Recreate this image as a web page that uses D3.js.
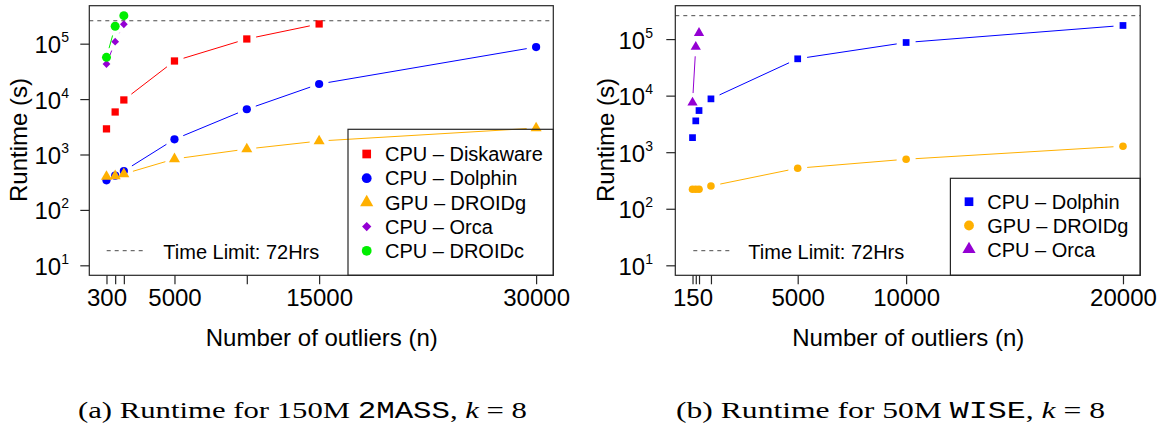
<!DOCTYPE html>
<html><head><meta charset="utf-8">
<script src="https://cdn.jsdelivr.net/npm/d3@7"></script>
<style>body{margin:0;background:#fff} svg{display:block}</style>
</head><body><svg id="c" width="1162" height="425"></svg>
<script>
// ---------- data ----------
const TIME_LIMIT = 259200; // 72 hours in seconds
// Panel (a): 150M 2MASS
const nA = [300, 900, 1500, 5000, 10000, 15000, 30000];
const diskawareA = [2900, 5850, 9650, 48700, 121600, 227000];
const dolphinA = [342, 414, 504, 1880, 6550, 18700, 87000];
const droidgA = [400, 410, 445, 830, 1255, 1750, 3000];
const orcaA = [43000, 108700, 224000];
const droidcA = [56700, 206000, 320000];
const xTicksA = [300, 900, 1500, 5000, 10000, 15000, 30000];
const xTickLabelsA = ["300", "", "", "5000", "", "15000", "30000"];
const xLimA = [300, 30000];
const yLimA = [10, 320000];
// Panel (b): 50M WISE
const nB = [150, 300, 450, 1000, 5000, 10000, 20000];
const dolphinB = [1810, 3580, 5450, 8770, 44800, 87000, 174000];
const droidgB = [221, 221, 221, 253, 521, 751, 1277];
const orcaB = [7550, 73000, 128000];
const xTicksB = [150, 300, 450, 1000, 5000, 10000, 20000];
const xTickLabelsB = ["150", "", "", "", "5000", "10000", "20000"];
const xLimB = [150, 20000];
const yLimB = [10, 259200];
const yTicks = [10, 100, 1000, 10000, 100000];
const yTickExp = ["1", "2", "3", "4", "5"];
const xTitle = "Number of outliers (n)";
const yTitle = "Runtime (s)";
const limitLabel = "Time Limit: 72Hrs";

const RED = "#ff0000", BLUE = "#0000ff", ORANGE = "#ffb000", PURPLE = "#9400d3", GREEN = "#00ee00";

const panels = [
  {
    x0: 89.3, x1: 553.3, y0: 5.7, y1: 275.3, xlim: xLimA, ylim: yLimA,
    xTicks: xTicksA, xLabels: xTickLabelsA, r: 4.1,
    series: [
      {name: "CPU \u2013 Diskaware", n: nA, v: diskawareA, shape: "square", color: RED},
      {name: "CPU \u2013 Dolphin", n: nA, v: dolphinA, shape: "circle", color: BLUE},
      {name: "GPU \u2013 DROIDg", n: nA, v: droidgA, shape: "triangle", color: ORANGE},
      {name: "CPU \u2013 Orca", n: nA, v: orcaA, shape: "diamond", color: PURPLE},
      {name: "CPU \u2013 DROIDc", n: nA, v: droidcA, shape: "circle", color: GREEN, rs: 1.1}
    ],
    legend: {x: 348, y: 129.3, symX: 366.7, textX: 385, row0: 154, step: 24.2},
    limLeg: {lx0: 106.7, lx1: 143.3, ly: 250.7, tx: 163.3, ty: 259},
    yTitleX: 27, tickLabelEnd: 69,
    caption: {x: 78, w: 449, parts: ["(a) Runtime for 150M ", "2MASS", ", ", "k", " = 8"]}
  },
  {
    x0: 675.3, x1: 1140.2, y0: 5.7, y1: 275.3, xlim: xLimB, ylim: yLimB,
    xTicks: xTicksB, xLabels: xTickLabelsB, r: 3.8,
    series: [
      {name: "CPU \u2013 Dolphin", n: nB, v: dolphinB, shape: "square", color: BLUE},
      {name: "GPU \u2013 DROIDg", n: nB, v: droidgB, shape: "circle", color: ORANGE},
      {name: "CPU \u2013 Orca", n: nB, v: orcaB, shape: "triangle", color: PURPLE}
    ],
    legend: {x: 950.4, y: 178.3, symX: 969, textX: 987.3, row0: 201.7, step: 23.8},
    limLeg: {lx0: 693.3, lx1: 730, ly: 250.7, tx: 748.3, ty: 259},
    yTitleX: 614, tickLabelEnd: 653,
    caption: {x: 676, w: 429, parts: ["(b) Runtime for 50M ", "WISE", ", ", "k", " = 8"]}
  }
];

// ---------- helpers ----------
function extLin([a, b]) { const d = (b - a) * 0.04; return [a - d, b + d]; }
function extLog([a, b]) { const la = Math.log10(a), lb = Math.log10(b), d = (lb - la) * 0.04; return [Math.pow(10, la - d), Math.pow(10, lb + d)]; }
function markerPath(shape, r) {
  if (shape === "circle") {
    const p = d3.path(); p.arc(0, 0, r, 0, 2 * Math.PI); p.closePath(); return p.toString();
  }
  if (shape === "square") {
    const s = r * 0.886;
    return `M${-s},${-s}L${s},${-s}L${s},${s}L${-s},${s}Z`;
  }
  if (shape === "triangle") {
    const t = 1.555 * r, w = 1.347 * r, b = 0.777 * r;
    return `M0,${-t}L${w},${b}L${-w},${b}Z`;
  }
  if (shape === "diamond") {
    const d = r * 0.95;
    return `M0,${-d}L${d},0L0,${d}L${-d},0Z`;
  }
}
const FONT = "'Liberation Sans', Arial, Helvetica, sans-serif";
const FRAME = "#262626";
const svg = d3.select("#c");

panels.forEach(P => {
  const x = d3.scaleLinear().domain(extLin(P.xlim)).range([P.x0, P.x1]);
  const y = d3.scaleLog().domain(extLog(P.ylim)).range([P.y1, P.y0]);
  const g = svg.append("g");

  // time limit line
  g.append("line")
    .attr("x1", P.x0).attr("x2", P.x1)
    .attr("y1", y(TIME_LIMIT)).attr("y2", y(TIME_LIMIT))
    .attr("stroke", "#4a4a4a").attr("stroke-width", 1).attr("stroke-dasharray", "4,4");

  // series
  const gap = 9.5;
  P.series.forEach(s => {
    const pts = s.v.map((v, i) => [x(s.n[i]), y(v)]);
    const sg = g.append("g");
    for (let i = 0; i < pts.length - 1; i++) {
      const [ax, ay] = pts[i], [bx, by] = pts[i + 1];
      const dx = bx - ax, dy = by - ay, d = Math.hypot(dx, dy);
      if (d <= 2 * gap) continue;
      const ux = dx / d, uy = dy / d;
      sg.append("line")
        .attr("x1", ax + ux * gap).attr("y1", ay + uy * gap)
        .attr("x2", bx - ux * gap).attr("y2", by - uy * gap)
        .attr("stroke", s.color).attr("stroke-width", 1);
    }
    sg.selectAll("path.pt").data(pts).join("path")
      .attr("class", "pt")
      .attr("transform", p => `translate(${p[0]},${p[1]})`)
      .attr("d", markerPath(s.shape, P.r * (s.rs || 1)))
      .attr("fill", s.color);
  });

  // frame
  g.append("rect")
    .attr("x", P.x0).attr("y", P.y0)
    .attr("width", P.x1 - P.x0).attr("height", P.y1 - P.y0)
    .attr("fill", "none").attr("stroke", FRAME).attr("stroke-width", 1.2);

  // x axis
  const xa = g.append("g").attr("transform", `translate(0,${P.y1})`)
    .call(d3.axisBottom(x).tickValues(P.xTicks).tickSize(9).tickFormat((d, i) => P.xLabels[i]));
  xa.select(".domain").remove();
  xa.selectAll(".tick line").attr("stroke", FRAME).attr("stroke-width", 1.2);
  xa.selectAll(".tick text").attr("y", 30.7).attr("dy", null)
    .attr("font-family", FONT).attr("font-size", 24).attr("fill", "#000");

  // y axis
  const ya = g.append("g").attr("transform", `translate(${P.x0},0)`)
    .call(d3.axisLeft(y).tickValues(yTicks).tickSize(9).tickFormat(() => ""));
  ya.select(".domain").remove();
  ya.selectAll(".tick line").attr("stroke", FRAME).attr("stroke-width", 1.2);
  ya.selectAll(".tick text").each(function(d, i) {
    const t = d3.select(this)
      .attr("x", P.tickLabelEnd - P.x0).attr("dy", null).attr("y", 9)
      .attr("text-anchor", "end").attr("font-family", FONT).attr("fill", "#000");
    t.append("tspan").attr("font-size", 24).text("10");
    t.append("tspan").attr("font-size", 14).attr("dy", -11).text(yTickExp[i]);
  });

  // axis titles
  g.append("text")
    .attr("x", (P.x0 + P.x1) / 2 + 0.5).attr("y", 346)
    .attr("text-anchor", "middle").attr("font-family", FONT).attr("font-size", 24)
    .text(xTitle);
  g.append("text")
    .attr("transform", `translate(${P.yTitleX},${(P.y0 + P.y1) / 2 - 0.5}) rotate(-90)`)
    .attr("text-anchor", "middle").attr("font-family", FONT).attr("font-size", 24)
    .text(yTitle);

  // legend box
  const L = P.legend;
  g.append("rect")
    .attr("x", L.x).attr("y", L.y)
    .attr("width", P.x1 - L.x).attr("height", P.y1 - L.y)
    .attr("fill", "none").attr("stroke", FRAME).attr("stroke-width", 1.2);
  P.series.forEach((s, i) => {
    const yy = L.row0 + i * L.step;
    g.append("path")
      .attr("transform", `translate(${L.symX},${yy})`)
      .attr("d", markerPath(s.shape, 4.9))
      .attr("fill", s.color);
    g.append("text")
      .attr("x", L.textX).attr("y", yy + 7.2)
      .attr("font-family", FONT).attr("font-size", 20)
      .text(s.name);
  });

  // time limit legend
  const T = P.limLeg;
  g.append("line")
    .attr("x1", T.lx0).attr("x2", T.lx1).attr("y1", T.ly).attr("y2", T.ly)
    .attr("stroke", "#4a4a4a").attr("stroke-width", 1).attr("stroke-dasharray", "4,4");
  g.append("text")
    .attr("x", T.tx).attr("y", T.ty)
    .attr("font-family", FONT).attr("font-size", 20)
    .text(limitLabel);

  // caption
  const C = P.caption;
  const ct = g.append("text")
    .attr("x", C.x).attr("y", 417.5)
    .attr("font-family", "'Liberation Serif', 'Times New Roman', serif").attr("font-size", 23.5)
    .attr("textLength", C.w).attr("lengthAdjust", "spacingAndGlyphs");
  ct.append("tspan").text(C.parts[0]);
  ct.append("tspan").attr("font-family", "'Liberation Mono', 'DejaVu Sans Mono', monospace").text(C.parts[1]);
  ct.append("tspan").text(C.parts[2]);
  ct.append("tspan").attr("font-style", "italic").text(C.parts[3]);
  ct.append("tspan").text(C.parts[4]);
});
</script>
</body></html>
